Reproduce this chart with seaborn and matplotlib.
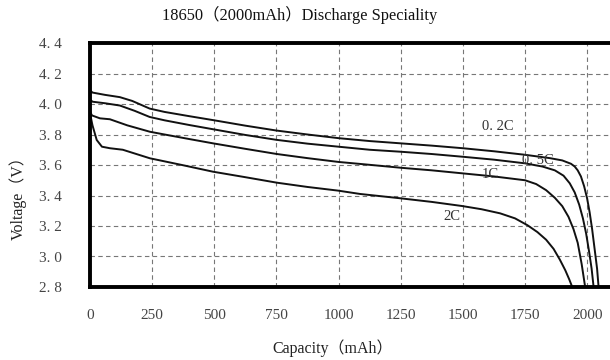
import matplotlib

matplotlib.use("Agg")

import matplotlib.pyplot as plt
import pandas as pd
import seaborn as sns
from matplotlib.ticker import FixedLocator, FixedFormatter

# discharge curves, (capacity mAh, voltage V)
rates = ["0. 2C", "0. 5C", "1C", "2C"]

cap_02c = [0, 10, 60, 120, 170, 240, 300, 400, 500, 625, 750, 875, 1000, 1125, 1250, 1375,
           1500, 1625, 1750, 1850, 1900, 1935, 1950, 1962, 1975, 1988, 2000, 2010, 2020, 2030,
           2040, 2046]
volt_02c = [4.09, 4.075, 4.06, 4.045, 4.02, 3.97, 3.948, 3.92, 3.893, 3.858, 3.826, 3.80, 3.776,
            3.757, 3.742, 3.727, 3.71, 3.69, 3.667, 3.645, 3.63, 3.608, 3.59, 3.565, 3.525, 3.46,
            3.38, 3.29, 3.18, 3.05, 2.92, 2.80]

cap_05c = [0, 10, 60, 120, 180, 240, 300, 400, 500, 625, 750, 875, 1000, 1125, 1250, 1375,
           1500, 1625, 1750, 1820, 1870, 1905, 1930, 1950, 1968, 1983, 1996, 2008, 2018, 2026]
volt_05c = [4.03, 4.015, 4.005, 3.99, 3.955, 3.915, 3.893, 3.862, 3.833, 3.797, 3.765, 3.74,
            3.72, 3.70, 3.687, 3.672, 3.654, 3.635, 3.611, 3.59, 3.565, 3.53, 3.48, 3.42, 3.34,
            3.25, 3.15, 3.03, 2.92, 2.80]

cap_1c = [0, 8, 40, 80, 150, 241, 300, 400, 495, 625, 752, 875, 1000, 1087, 1250, 1375, 1500,
          1625, 1750, 1795, 1835, 1870, 1900, 1925, 1945, 1962, 1978, 1992]
volt_1c = [3.95, 3.925, 3.906, 3.90, 3.86, 3.818, 3.80, 3.77, 3.742, 3.706, 3.672, 3.645, 3.62,
           3.607, 3.582, 3.565, 3.545, 3.525, 3.50, 3.475, 3.435, 3.385, 3.33, 3.26, 3.18,
           3.09, 2.95, 2.80]

cap_2c = [0, 10, 27, 48, 80, 132, 241, 370, 495, 625, 752, 875, 998, 1087, 1247, 1375, 1497,
          1575, 1650, 1710, 1760, 1800, 1835, 1865, 1890, 1912, 1928, 1940]
volt_2c = [3.94, 3.86, 3.764, 3.72, 3.71, 3.70, 3.644, 3.60, 3.556, 3.52, 3.484, 3.456, 3.432,
           3.41, 3.382, 3.358, 3.331, 3.31, 3.283, 3.25, 3.205, 3.16, 3.11, 3.05, 2.98, 2.91,
           2.85, 2.80]

x_ticks = [0, 250, 500, 750, 1000, 1250, 1500, 1750, 2000]
y_ticks = [2.8, 3.0, 3.2, 3.4, 3.6, 3.8, 4.0, 4.2, 4.4]
y_tick_labels = ["2. 8", "3. 0", "3. 2", "3. 4", "3. 6", "3. 8", "4. 0", "4. 2", "4. 4"]

SERIF = ["Liberation Serif", "Noto Sans CJK SC", "DejaVu Serif"]


def build_frame() -> pd.DataFrame:
    parts = []
    for rate, caps, volts in zip(rates, [cap_02c, cap_05c, cap_1c, cap_2c],
                                 [volt_02c, volt_05c, volt_1c, volt_2c]):
        parts.append(pd.DataFrame({"capacity": caps, "voltage": volts, "rate": rate}))
    return pd.concat(parts, ignore_index=True)


def main() -> None:
    sns.set_theme(style="white")
    plt.rcParams["font.family"] = SERIF

    df = build_frame()
    fig = plt.figure(figsize=(6.1, 3.6), dpi=100)
    ax = fig.add_axes([90 / 610, 1 - 287 / 360, 522 / 610, 244 / 360])

    sns.lineplot(data=df, x="capacity", y="voltage", hue="rate",
                 palette={r: "#111111" for r in rates}, estimator=None, sort=False,
                 legend=False, linewidth=1.4, ax=ax)

    ax.set_xlim(0, 2100)
    ax.set_ylim(2.8, 4.4)
    ax.xaxis.set_major_locator(FixedLocator(x_ticks))
    ax.yaxis.set_major_locator(FixedLocator(y_ticks))
    ax.yaxis.set_major_formatter(FixedFormatter(y_tick_labels))
    ax.grid(True, color="#777777", linestyle=(0, (4, 3)), linewidth=0.8)
    ax.tick_params(axis="both", length=0, labelsize=11, labelcolor="#444444")
    ax.tick_params(axis="y", pad=20)
    ax.tick_params(axis="x", pad=16)
    for side, spine in ax.spines.items():
        spine.set_color("black")
        spine.set_linewidth(2.8)
    ax.spines["right"].set_visible(False)

    ax.set_xlabel("")
    ax.set_ylabel("")
    fig.text(0.545, 0.033, "Capacity（mAh）", ha="center", va="center", fontsize=11.5,
             color="#222222", family=SERIF)
    fig.text(0.03, 0.46, "Voltage（V）", ha="center", va="center", rotation=90,
             fontsize=11.5, color="#222222", family=SERIF)
    fig.text(0.492, 0.958, "18650（2000mAh）Discharge Speciality", ha="center", va="center",
             fontsize=11.8, color="#111111", family=SERIF)

    # curve labels
    label_spots = {"0. 2C": (1640, 3.85), "0. 5C": (1800, 3.63), "1C": (1610, 3.535), "2C": (1455, 3.26)}
    for rate, (cx, cy) in label_spots.items():
        ax.text(cx, cy, rate, ha="center", va="center", fontsize=10.5, color="#333333", family=SERIF)

    fig.savefig("out.png", dpi=100)
    plt.close(fig)


if __name__ == "__main__":
    main()
